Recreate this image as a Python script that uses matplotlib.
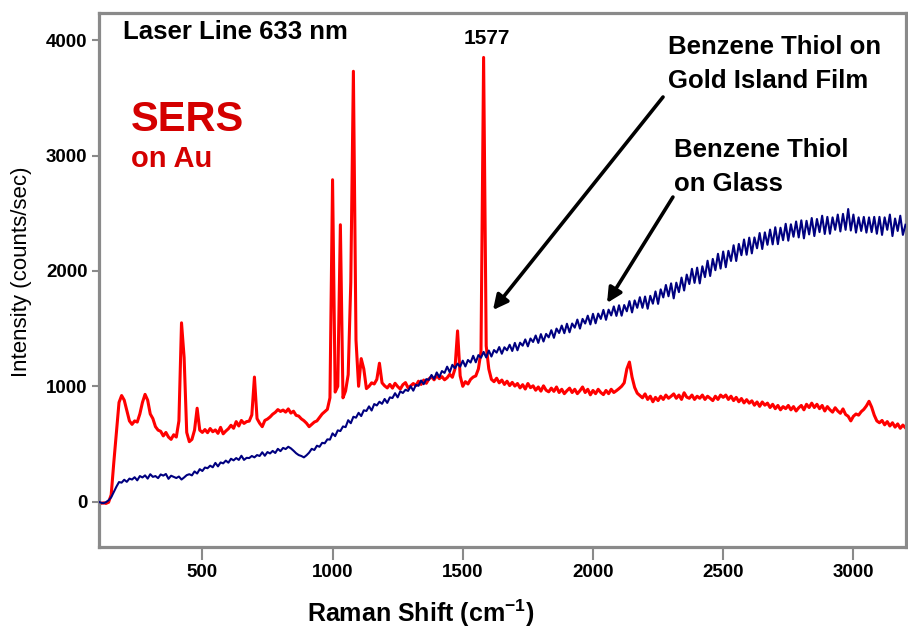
import matplotlib
matplotlib.use("Agg")
import matplotlib.pyplot as plt
import numpy as np
from matplotlib import font_manager

# Raman shift grid (cm^-1), one reading every 10 cm^-1
shift = np.arange(100, 3201, 10)

# SERS spectrum, benzene thiol on gold island film (counts/sec)
sers_au = [
    -10, -15, -10, -15, -5, 60, 340, 600, 860, 920,
    880, 790, 700, 670, 700, 690, 760, 860, 930, 880,
    760, 720, 650, 620, 610, 570, 600, 560, 540, 580,
    560, 700, 1550, 1250, 600, 520, 540, 620, 810, 620,
    600, 625, 598, 634, 606, 622, 592, 644, 588, 612,
    632, 662, 636, 694, 656, 704, 678, 694, 698, 752,
    1080, 720, 680, 650, 704, 716, 734, 758, 774, 798,
    782, 794, 776, 804, 768, 784, 748, 742, 718, 702,
    680, 650, 670, 690, 700, 730, 760, 780, 800, 900,
    2790, 950, 1000, 2400, 900, 960, 1100, 1900, 3730, 1400,
    1000, 1240, 1150, 980, 1000, 1030, 1020, 1060, 1200, 1030,
    1004, 986, 1016, 984, 1026, 998, 976, 1014, 1032, 986,
    1004, 1024, 1006, 1044, 1016, 1054, 1026, 1064, 1082, 1056,
    1094, 1066, 1084, 1056, 1074, 1104, 1078, 1150, 1480, 1090,
    1000, 1040, 1020, 1060, 1080, 1090, 1150, 1300, 3850, 1350,
    1150, 1060, 1040, 1070, 1030, 1054, 1016, 1044, 1006, 1034,
    1002, 1024, 986, 1014, 976, 1024, 988, 1004, 966, 994,
    958, 1004, 966, 952, 984, 956, 994, 946, 974, 936,
    962, 984, 946, 974, 936, 962, 994, 946, 974, 926,
    964, 936, 974, 946, 928, 964, 936, 974, 946, 962,
    980, 1000, 1030, 1150, 1210, 1080, 990, 940, 920, 900,
    934, 886, 914, 866, 904, 876, 914, 886, 924, 896,
    914, 934, 896, 924, 886, 944, 906, 896, 924, 886,
    914, 896, 924, 886, 914, 896, 876, 914, 886, 924,
    904, 924, 886, 914, 876, 904, 866, 894, 856, 884,
    854, 874, 836, 864, 826, 864, 836, 854, 816, 844,
    806, 834, 796, 824, 806, 834, 796, 824, 786, 814,
    834, 796, 844, 816, 854, 816, 844, 806, 834, 786,
    824, 796, 776, 814, 786, 766, 804, 756, 740, 700,
    740, 760, 750, 780, 800, 830, 870, 820, 750, 700,
    684, 704, 666, 694, 656, 684, 646, 674, 636, 664,
    640,
]

# normal Raman spectrum, benzene thiol on glass (counts/sec)
glass = [
    0, -8, -14, -4, 12, 38, 85, 130, 170, 165,
    190, 172, 200, 192, 212, 185, 222, 210, 228, 200,
    238, 215, 222, 204, 236, 226, 240, 198, 225, 215,
    205, 218, 192, 210, 230, 238, 228, 262, 244, 282,
    266, 296, 290, 312, 298, 336, 306, 340, 332, 356,
    338, 372, 358, 378, 362, 398, 362, 380, 378, 396,
    384, 404, 396, 428, 398, 430, 418, 440, 422, 458,
    438, 466, 456, 476, 462, 442, 420, 404, 396, 384,
    402, 425, 458, 448, 485, 476, 510, 506, 540, 538,
    592, 568, 618, 612, 652, 646, 706, 680, 736, 728,
    770, 742, 792, 786, 826, 790, 846, 834, 866, 848,
    890, 856, 904, 898, 940, 904, 956, 942, 970, 960,
    1000, 962, 1012, 1004, 1050, 1018, 1062, 1056, 1098, 1064,
    1120, 1080, 1132, 1116, 1170, 1122, 1186, 1156, 1196, 1170,
    1222, 1172, 1228, 1206, 1264, 1208, 1270, 1248, 1298, 1250,
    1310, 1258, 1314, 1292, 1340, 1282, 1338, 1312, 1360, 1306,
    1376, 1312, 1378, 1352, 1406, 1346, 1414, 1384, 1440, 1376,
    1452, 1388, 1454, 1424, 1486, 1420, 1500, 1462, 1526, 1460,
    1542, 1468, 1544, 1508, 1578, 1500, 1584, 1544, 1612, 1536,
    1628, 1546, 1630, 1584, 1662, 1576, 1664, 1614, 1692, 1610,
    1702, 1612, 1704, 1650, 1738, 1640, 1744, 1680, 1772, 1680,
    1778, 1672, 1784, 1716, 1822, 1714, 1840, 1770, 1878, 1780,
    1892, 1762, 1898, 1816, 1942, 1830, 1968, 1886, 2018, 1896,
    2028, 1892, 2040, 1946, 2088, 1956, 2104, 2006, 2148, 2020,
    2168, 2032, 2174, 2086, 2222, 2086, 2234, 2136, 2272, 2140,
    2288, 2152, 2290, 2196, 2328, 2190, 2334, 2226, 2358, 2230,
    2378, 2232, 2374, 2266, 2408, 2262, 2404, 2296, 2428, 2290,
    2438, 2282, 2434, 2316, 2458, 2302, 2450, 2336, 2478, 2320,
    2468, 2322, 2464, 2356, 2488, 2342, 2494, 2356, 2536, 2350,
    2488, 2332, 2464, 2346, 2468, 2332, 2464, 2336, 2468, 2322,
    2468, 2312, 2464, 2356, 2488, 2302, 2454, 2346, 2478, 2312,
    2400,
]

x_ticks = [500, 1000, 1500, 2000, 2500, 3000]
y_ticks = [0, 1000, 2000, 3000, 4000]

installed = {f.name for f in font_manager.fontManager.ttflist}
tick_font = "Liberation Sans Narrow" if "Liberation Sans Narrow" in installed else "Liberation Sans"
tick_size = 15 if tick_font.endswith("Narrow") else 13.5

plt.rcParams["font.family"] = ["Liberation Sans", "DejaVu Sans"]
plt.rcParams["mathtext.fontset"] = "custom"
plt.rcParams["mathtext.rm"] = "Liberation Sans:bold"
plt.rcParams["mathtext.bf"] = "Liberation Sans:bold"

FRAME = "#8a8a8a"

fig = plt.figure(figsize=(9.08, 6.28), dpi=100)
ax = fig.add_axes([0.1087, 0.1282, 0.8891, 0.8511])

ax.plot(shift, sers_au, color="#ff0000", lw=2.2, zorder=2)
ax.plot(shift, glass, color="#000080", lw=1.5, zorder=3)

ax.set_xlim(102, 3202)
ax.set_ylim(-397, 4235)
ax.set_xticks(x_ticks)
ax.set_yticks(y_ticks)

for s in ax.spines.values():
    s.set_color(FRAME)
    s.set_linewidth(2.3)
ax.tick_params(axis="x", length=9, width=1.5, color=FRAME, pad=3)
ax.tick_params(axis="y", length=5, width=1.5, color=FRAME, pad=3)
for lab in ax.get_xticklabels() + ax.get_yticklabels():
    lab.set_family(tick_font)
    lab.set_fontweight("bold")
    lab.set_fontsize(tick_size)

fig.text(22 / 908, 1 - 272 / 628, "Intensity (counts/sec)", rotation=90,
         ha="center", va="center", fontsize=16)
fig.text(421 / 908, 1 - 622 / 628, r"Raman Shift (cm$^{-1}$)",
         ha="center", va="baseline", fontsize=18, fontweight="bold")

# labels placed in data coordinates
ax.text(194, 4010, "Laser Line 633 nm", fontsize=18.5, fontweight="bold",
        ha="left", va="baseline")
ax.text(225, 3212, "SERS", fontsize=30, fontweight="bold", color="#d40000",
        ha="left", va="baseline")
ax.text(225, 2903, "on Au", fontsize=21, fontweight="bold", color="#d40000",
        ha="left", va="baseline")
ax.text(1592, 3964, "1577", fontsize=15, fontweight="bold",
        ha="center", va="baseline")
ax.text(2290, 3877, "Benzene Thiol on", fontsize=18.5, fontweight="bold",
        ha="left", va="baseline")
ax.text(2290, 3582, "Gold Island Film", fontsize=18.5, fontweight="bold",
        ha="left", va="baseline")
ax.text(2311, 2984, "Benzene Thiol", fontsize=18.5, fontweight="bold",
        ha="left", va="baseline")
ax.text(2311, 2695, "on Glass", fontsize=18.5, fontweight="bold",
        ha="left", va="baseline")

arrow = dict(arrowstyle="-|>", color="black", lw=2.6, mutation_scale=22,
             shrinkA=0, shrinkB=0)
ax.annotate("", xy=(1616, 1661), xytext=(2269, 3507), arrowprops=arrow)
ax.annotate("", xy=(2054, 1722), xytext=(2307, 2640), arrowprops=arrow)

fig.savefig("out.png", dpi=100)
